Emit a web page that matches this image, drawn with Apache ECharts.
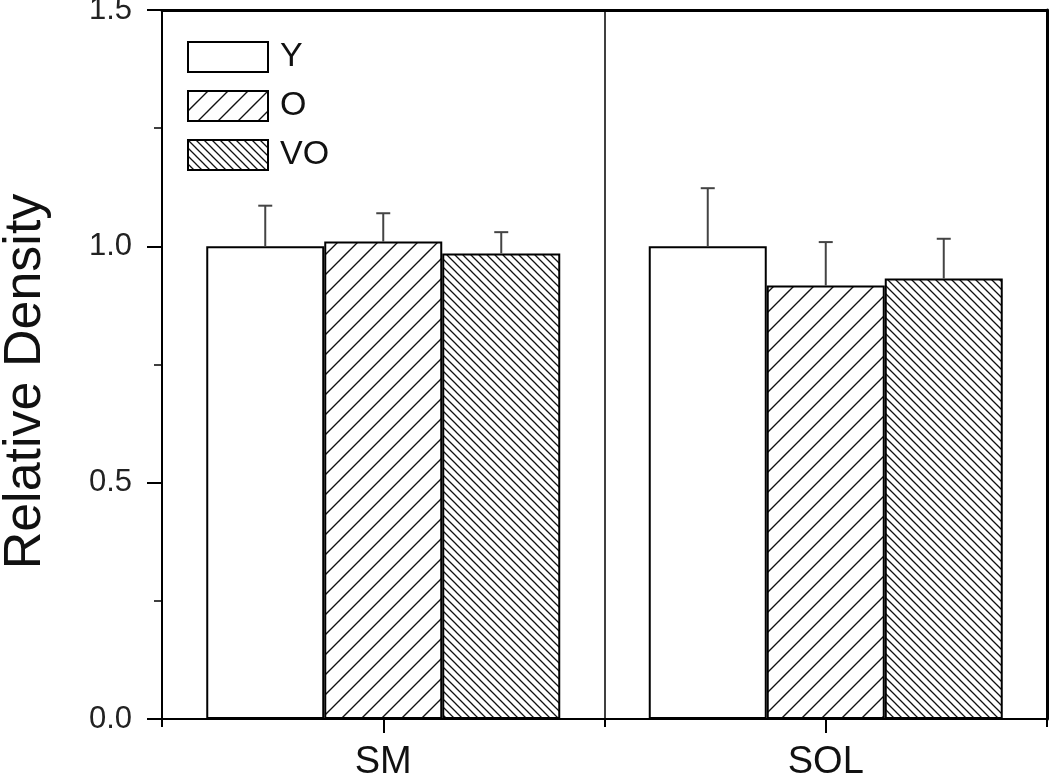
<!DOCTYPE html>
<html>
<head>
<meta charset="utf-8">
<script src="https://cdn.jsdelivr.net/npm/echarts@6/dist/echarts.min.js"></script>
<style>
html,body{margin:0;padding:0;background:#fff;}
#chart{width:1050px;height:777px;}
</style>
</head>
<body>
<div id="chart"></div>
<script>
const categories = ['SM', 'SOL'];
const seriesNames = ['Y', 'O', 'VO'];
const meanY = [1.0, 1.0];
const meanO = [1.01, 0.917];
const meanVO = [0.985, 0.932];
const errY = [0.086, 0.123];
const errO = [0.06, 0.092];
const errVO = [0.045, 0.084];
const yTicks = [0, 0.5, 1.0, 1.5];

const FONT = "'Liberation Sans', Arial, sans-serif";

function makePattern(size, dir, lw) {
  const c = document.createElement('canvas');
  c.width = size; c.height = size;
  const g = c.getContext('2d');
  g.fillStyle = '#fff';
  g.fillRect(0, 0, size, size);
  g.strokeStyle = '#111';
  g.lineWidth = lw;
  g.beginPath();
  if (dir === 'fwd') {
    [0, size, 2 * size].forEach(cc => {
      g.moveTo(cc + 1, -1);
      g.lineTo(cc - size - 1, size + 1);
    });
  } else {
    [-size, 0, size].forEach(cc => {
      g.moveTo(cc - 1, -1);
      g.lineTo(cc + size + 1, size + 1);
    });
  }
  g.stroke();
  return { image: c, repeat: 'repeat' };
}

const fills = ['#ffffff', makePattern(20, 'fwd', 1.4), makePattern(8, 'back', 1.3)];
const means = [meanY, meanO, meanVO];
const errs = [errY, errO, errVO];

const barSeries = seriesNames.map((n, i) => ({
  name: n,
  type: 'bar',
  xAxisIndex: 0,
  yAxisIndex: 0,
  data: means[i],
  barGap: '0%',
  barCategoryGap: '20%',
  itemStyle: { color: fills[i], borderColor: '#000', borderWidth: 2 },
  emphasis: { disabled: true },
  z: 2
}));

const errData = [];
seriesNames.forEach((n, k) => {
  categories.forEach((c, ci) => {
    errData.push([ci, k, means[k][ci], errs[k][ci]]);
  });
});

const errSeries = {
  type: 'custom',
  xAxisIndex: 0,
  yAxisIndex: 0,
  data: errData,
  encode: { x: 0, y: 2 },
  z: 5,
  silent: true,
  renderItem: function (params, api) {
    const cat = api.value(0), k = api.value(1), m = api.value(2), e = api.value(3);
    const catW = api.size([1, 0])[0];
    const bw = catW * 0.8 / 3;
    const base = api.coord([cat, m]);
    const top = api.coord([cat, m + e]);
    const x = base[0] + (k - 1) * bw;
    const style = { stroke: '#444', lineWidth: 2 };
    return {
      type: 'group',
      children: [
        { type: 'line', shape: { x1: x, y1: base[1], x2: x, y2: top[1] }, style: style },
        { type: 'line', shape: { x1: x - 7, y1: top[1], x2: x + 7, y2: top[1] }, style: style }
      ]
    };
  }
};

const chart = echarts.init(document.getElementById('chart'), null, { renderer: 'canvas' });
chart.setOption({
  animation: false,
  backgroundColor: '#fff',
  textStyle: { fontFamily: FONT },
  grid: { left: 162, right: 3, top: 10, bottom: 58, containLabel: false, outerBoundsMode: 'none' },
  legend: {
    data: seriesNames,
    orient: 'vertical',
    left: 187,
    top: 40,
    padding: 0,
    icon: 'rect',
    itemWidth: 80,
    itemHeight: 30,
    itemGap: 15,
    selectedMode: false,
    textStyle: { fontSize: 34, color: '#111', fontFamily: FONT, padding: [0, 0, 0, 7] }
  },
  xAxis: [
    {
      type: 'category',
      data: categories,
      position: 'bottom',
      axisLine: { show: true, lineStyle: { color: '#000', width: 2 } },
      axisTick: { show: true, alignWithLabel: false, length: 8, lineStyle: { color: '#000', width: 2 } },
      axisLabel: { fontSize: 38, color: '#111', margin: 25, fontFamily: FONT },
      splitLine: { show: true, lineStyle: { color: '#000', width: 1.5 } }
    },
    {
      type: 'category',
      data: categories,
      position: 'bottom',
      axisLine: { show: false },
      axisTick: { show: true, alignWithLabel: true, length: 14, lineStyle: { color: '#000', width: 2 } },
      axisLabel: { show: false },
      splitLine: { show: false }
    },
    {
      type: 'category',
      data: categories,
      position: 'top',
      axisLine: { show: true, lineStyle: { color: '#000', width: 3 } },
      axisTick: { show: false },
      axisLabel: { show: false },
      splitLine: { show: false }
    }
  ],
  yAxis: [
    {
      type: 'value',
      min: yTicks[0],
      max: yTicks[yTicks.length - 1],
      interval: 0.5,
      name: 'Relative Density',
      nameLocation: 'middle',
      nameGap: 110,
      nameTextStyle: { fontSize: 52, color: '#111', fontFamily: FONT, padding: [0, 34, 0, 0] },
      axisLine: { show: true, lineStyle: { color: '#000', width: 2 } },
      axisTick: { show: true, inside: false, length: 15, lineStyle: { color: '#000', width: 2 } },
      minorTick: { show: true, splitNumber: 2, length: 8, lineStyle: { color: '#000', width: 1.5 } },
      axisLabel: { fontSize: 31, color: '#222', margin: 30, fontFamily: FONT, formatter: v => v.toFixed(1) },
      splitLine: { show: false }
    },
    {
      type: 'value',
      min: yTicks[0],
      max: yTicks[yTicks.length - 1],
      position: 'right',
      axisLine: { show: true, lineStyle: { color: '#000', width: 3 } },
      axisTick: { show: false },
      axisLabel: { show: false },
      splitLine: { show: false }
    }
  ],
  series: barSeries.concat([errSeries])
});
</script>
</body>
</html>
